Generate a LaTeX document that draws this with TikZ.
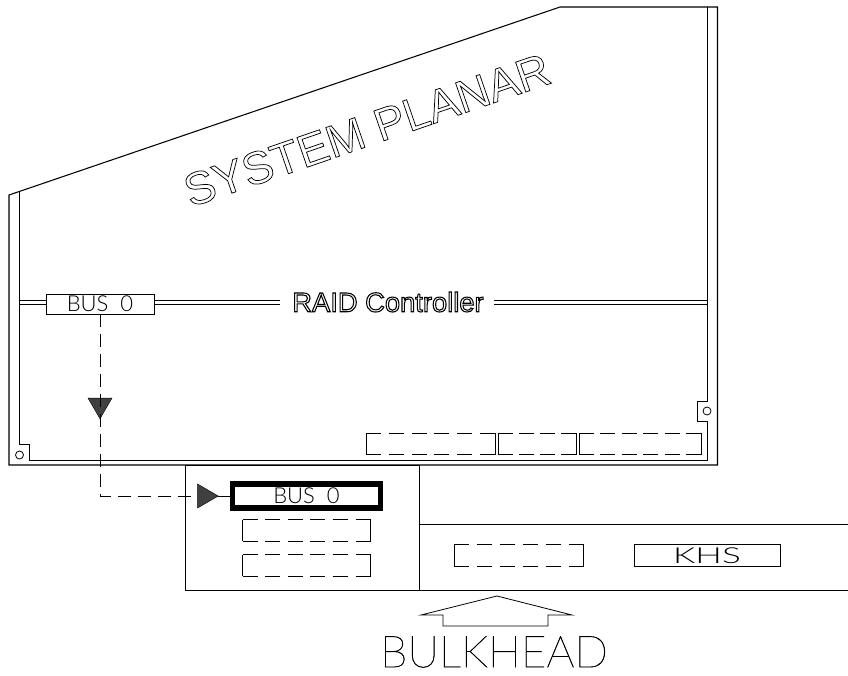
\documentclass[tikz,border=0pt]{standalone}
\usepackage{fontspec}
\setmainfont{Liberation Sans}
\newfontfamily\thinfont{Lato Light}
\newfontfamily\hairfont{Lato Thin}
\usetikzlibrary{positioning,shapes.geometric}
\newcommand{\outlinetext}[2]{\special{pdf:code q 1 Tr #1 w}#2\special{pdf:code Q}}
\newcommand{\strokedtext}[2]{\special{pdf:code q 2 Tr #1 w}#2\special{pdf:code Q}}

\begin{document}
\begin{tikzpicture}[
    x=0.75pt, y=-0.75pt,
    every node/.style={inner sep=0pt, outer sep=0pt},
    edge/.style={line width=0.8pt},
    thin edge/.style={line width=0.6pt},
    busbox/.style={rectangle, draw, line width=0.6pt, font=\thinfont\fontsize{16.5}{16.5}\selectfont},
    slotbox/.style={rectangle, minimum height=16pt},
    link/.style={line width=0.6pt, dash pattern=on 10pt off 5pt},
    tip/.style={isosceles triangle, isosceles triangle stretches, fill=black!75, draw=black, line width=0.3pt,
                minimum width=18pt, minimum height=15.5pt},
]
    \useasboundingbox (0,0) rectangle (848,675);
    %% planar outline
    \draw[edge] (9,465) -- (9,195) -- (560,7) -- (717.5,7) -- (717.5,465) -- cycle;
    \draw[thin edge] (19,191) -- (19,444) -- (29,444) -- (29,460) -- (707,460) -- (707,421)
        -- (697,421) -- (697,401) -- (707,401) -- (707,7);
    \node[circle, draw, line width=0.6pt, minimum size=6pt] (holea) at (19.5,455) {};
    \node[circle, draw, line width=0.6pt, minimum size=6pt] (holeb) at (707,411) {};
    \node[rotate=19, font=\fontsize{34.3}{34.3}\selectfont] (title) at (367,130) {\outlinetext{0.55}{SYSTEM PLANAR}};

    %% controller
    \node[busbox, minimum width=81pt, minimum height=15pt] (busa) at (100,304) {\raisebox{0.6pt}{BUS\ \ 0}};
    \node[font=\fontsize{20.5}{20.5}\selectfont] (raid) at (388,302) {\outlinetext{0.8}{RAID Controller}};
    \coordinate (edgel) at (19,302.5);
    \coordinate (edger) at (707,302.5);
    \foreach \dy in {-1.6,1.6} {
        \draw[thin edge] ([yshift=\dy pt]edgel) -- ([yshift=\dy pt]edgel -| busa.west);
        \draw[thin edge] ([yshift=\dy pt]edgel -| busa.east) -- ([yshift=\dy pt,xshift=-9pt]edgel -| raid.west);
        \draw[thin edge] ([yshift=\dy pt,xshift=8pt]edgel -| raid.east) -- ([yshift=\dy pt]edger);
    }

    %% slots on the planar
    \node[slotbox, minimum width=96.75pt] (slota) at (430.5,444) {};
    \node[slotbox, minimum width=58.5pt] (slotb) at (537,444) {};
    \node[slotbox, minimum width=91.5pt] (slotc) at (640,444) {};

    %% bulkhead panel
    \node[draw, line width=0.6pt, minimum width=175.5pt, minimum height=93.75pt] (panel) at (302,527.5) {};
    \draw[thin edge] (panel.south east) -- (848,590) coordinate (panelr);
    \draw[thin edge] (419,524) coordinate (shelfl) -- (848,524) coordinate (shelfr);
    \node[draw, line width=3.8pt, minimum width=111pt, minimum height=18pt,
          font=\thinfont\fontsize{16.5}{16.5}\selectfont] (busb) at (306.5,496) {BUS\ \ 0};
    \node[slotbox, minimum width=96pt] (slotd) at (306.5,530.5) {};
    \node[slotbox, minimum width=96pt] (slote) at (306.5,565.5) {};
    \node[slotbox, minimum width=97pt] (slotf) at (519,555.5) {};
    \node[busbox, minimum width=109.5pt, minimum height=16.5pt] (khs) at (707,555.5) {\scalebox{1.6}[1]{KHS}};

    \foreach \s/\gap in {slota/5.85,slotb/4.5,slotc/4.8,slotd/5.7,slote/5.7,slotf/5.9} {
        \draw[line width=0.6pt, dash pattern=on 11.25pt off \gap pt] (\s.north west) -- (\s.north east);
        \draw[line width=0.6pt, dash pattern=on 11.25pt off \gap pt] (\s.south west) -- (\s.south east);
        \draw[line width=0.6pt] (\s.north west) -- (\s.south west);
        \draw[line width=0.6pt] (\s.north east) -- (\s.south east);
    }

    %% connector
    \node[tip] (tipb) at (204.5,496) {};
    \node[tip, shape border rotate=-90] (tipa) at (100,405) {};
    \draw[link] (busa.south) |- (tipb.west);
    \draw[thin edge] (tipb.east) -- (busb.west);

    %% arrow and its label
    \draw[line width=0.6pt] (421,615) coordinate (arra) -- (497,596) coordinate (arrb) -- (572,615) -- (548,615)
        -- (548,626) -- (443,626) -- (443,615) -- cycle;
    \node[font=\hairfont\fontsize{33}{33}\selectfont] (bulk) at (494,652) {\strokedtext{0.3}{BULKHEAD}};
\end{tikzpicture}
\end{document}
